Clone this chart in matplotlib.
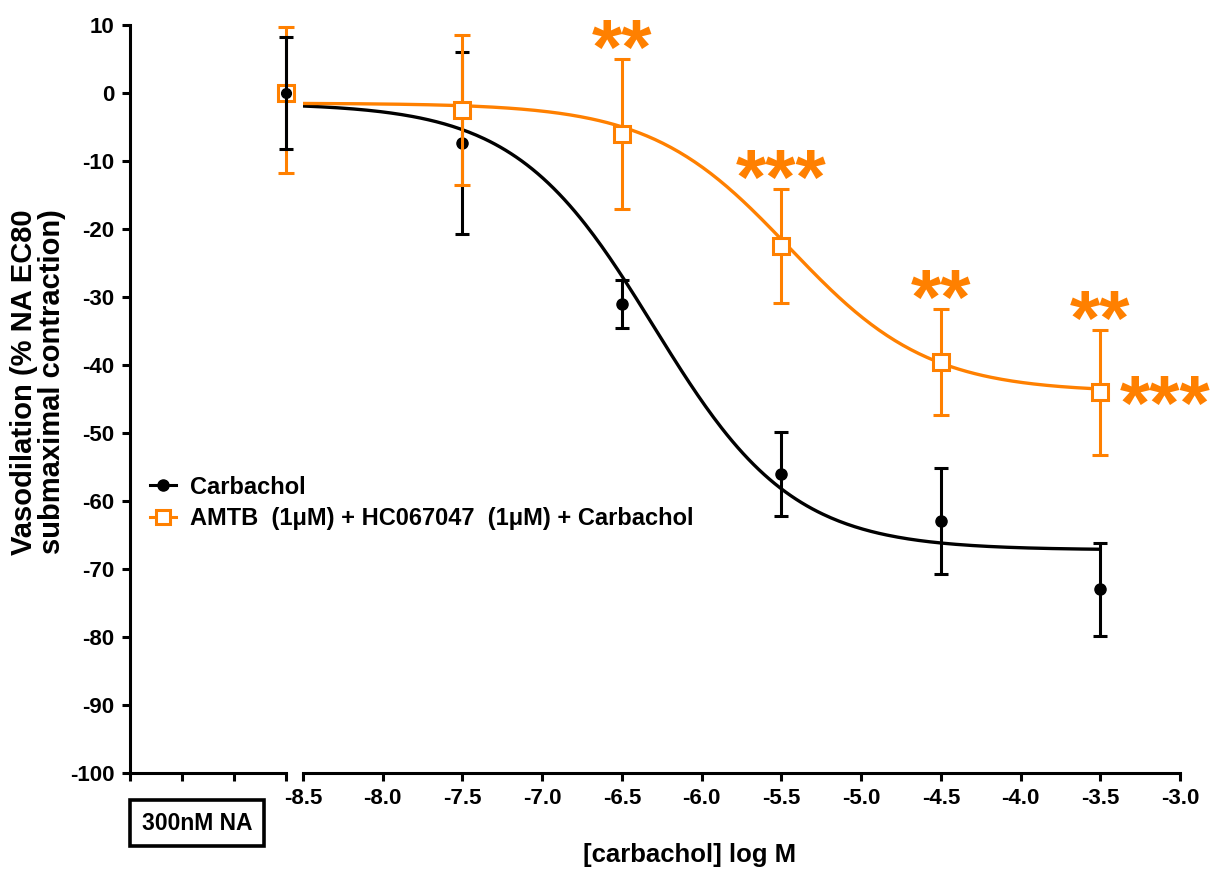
import matplotlib
matplotlib.use("Agg")
import matplotlib.pyplot as plt
from matplotlib.lines import Line2D
import numpy as np

plt.rcParams["font.family"] = ["Liberation Sans", "DejaVu Sans"]
plt.rcParams["font.weight"] = "bold"
plt.rcParams["axes.unicode_minus"] = False

# log M concentrations
log_conc = [-7.5, -6.5, -5.5, -4.5, -3.5]

# Carbachol (mean, SEM)
carb_base = 0.0
carb_base_err = 8.3
carb_mean = [-7.3, -31.0, -56.0, -63.0, -73.0]
carb_sem = [13.4, 3.5, 6.2, 7.8, 6.8]

# AMTB + HC067047 + Carbachol
amtb_base = 0.0
amtb_base_err_lo = 11.8
amtb_base_err_hi = 9.7
amtb_mean = [-2.5, -6.0, -22.5, -39.5, -44.0]
amtb_sem = [11.0, 11.0, 8.4, 7.8, 9.2]

# sigmoidal fit parameters (top, bottom, logEC50, hill)
carb_fit = (-1.5, -67.2, -6.3, 1.0)
amtb_fit = (-1.5, -44.0, -5.45, 1.0)

# significance marks above AMTB points
stars = ["", "**", "***", "**", "**"]

ORANGE = "#FF8000"
LW = 2.2


def sigmoid(x, top, bottom, logec50, hill):
    return top + (bottom - top) / (1 + 10 ** ((logec50 - x) * hill))


fig = plt.figure(figsize=(12.15, 8.73), dpi=100)
ax0 = fig.add_axes([130 / 1215, 1 - 773 / 873, 156 / 1215, 748 / 873])
ax1 = fig.add_axes([303 / 1215, 1 - 773 / 873, 877 / 1215, 748 / 873], sharey=ax0)

for ax in (ax0, ax1):
    ax.set_ylim(-100, 10)
    ax.spines["top"].set_visible(False)
    ax.spines["right"].set_visible(False)
    for s in ("left", "bottom"):
        ax.spines[s].set_linewidth(LW)
    ax.tick_params(direction="out", length=6, width=LW, labelsize=16, pad=5)
    ax.patch.set_alpha(0)

ax1.spines["left"].set_visible(False)
ax1.tick_params(axis="y", left=False, labelleft=False)

# baseline segment (300nM NA)
ax0.set_xlim(0, 3)
ax0.set_xticks([0, 1, 2, 3])
ax0.set_xticklabels([])
ax0.set_yticks(np.arange(-100, 11, 10))
ax0.errorbar([3], [amtb_base], yerr=[[amtb_base_err_lo], [amtb_base_err_hi]],
             fmt="s", color=ORANGE, mfc="white", mec=ORANGE, ms=11, mew=LW,
             elinewidth=LW, capsize=6, capthick=LW, clip_on=False, zorder=3)
ax0.errorbar([3], [carb_base], yerr=[carb_base_err], fmt="o", color="black",
             ms=7, elinewidth=LW, capsize=5, capthick=LW, clip_on=False, zorder=4)

# concentration segment
ticks = np.arange(-8.5, -2.9, 0.5)
ax1.set_xlim(-8.5, -3.0)
ax1.set_xticks(ticks)
ax1.set_xticklabels([f"{v:.1f}" for v in ticks])

xs = np.linspace(-8.5, -3.5, 300)
ax1.plot(xs, sigmoid(xs, *carb_fit), color="black", lw=2.4, zorder=2)
ax1.plot(xs, sigmoid(xs, *amtb_fit), color=ORANGE, lw=2.4, zorder=2)

ax1.errorbar(log_conc, carb_mean, yerr=carb_sem, fmt="o", color="black",
             ms=8, elinewidth=LW, capsize=5, capthick=LW, clip_on=False, zorder=3)
ax1.errorbar(log_conc, amtb_mean, yerr=amtb_sem, fmt="s", color=ORANGE,
             mfc="white", mec=ORANGE, ms=11, mew=LW, elinewidth=LW,
             capsize=6, capthick=LW, clip_on=False, zorder=4)

for x, m, e, s in zip(log_conc, amtb_mean, amtb_sem, stars):
    if s:
        ax1.annotate(s, (x, m + e), xytext=(0, -11), textcoords="offset points",
                     ha="center", va="baseline", fontsize=56, color=ORANGE,
                     annotation_clip=False)
ax1.annotate("***", (log_conc[-1], amtb_mean[-1]), xytext=(14, -27),
             textcoords="offset points", ha="left", va="baseline",
             fontsize=56, color=ORANGE, annotation_clip=False)

fig.text(690 / 1215, 1 - 855 / 873, "[carbachol] log M", ha="center", va="center",
         fontsize=18.5, fontweight="bold")
fig.text(38 / 1215, 1 - 382 / 873, "Vasodilation (% NA EC80\nsubmaximal contraction)",
         rotation=90, ha="center", va="center", fontsize=21, fontweight="bold",
         linespacing=1.0)

fig.text(197 / 1215, 1 - 823 / 873, "300nM NA", ha="center", va="center", fontsize=16.5,
         bbox=dict(boxstyle="square,pad=0.5", fc="white", ec="black", lw=2.6))

handles = [
    Line2D([], [], color="black", marker="o", ms=8, lw=LW),
    Line2D([], [], color=ORANGE, marker="s", mfc="white", mec=ORANGE, ms=10, mew=LW, lw=LW),
]
fig.legend(handles, ["Carbachol", "AMTB  (1\u03bcM) + HC067047  (1\u03bcM) + Carbachol"],
           loc="upper left", bbox_to_anchor=(133 / 1215, 1 - 459 / 873), frameon=False,
           fontsize=17, handlelength=1.1, handletextpad=0.6, labelspacing=0.35,
           borderpad=0.2)

fig.savefig("out.png", dpi=100)
